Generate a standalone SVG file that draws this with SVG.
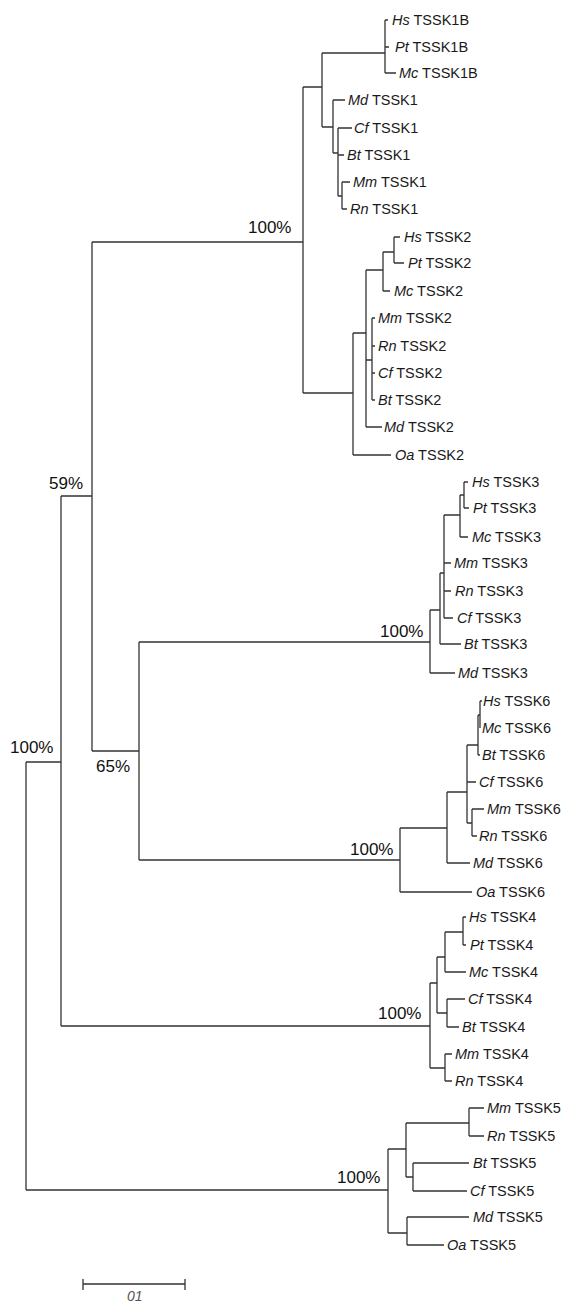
<svg xmlns="http://www.w3.org/2000/svg" width="564" height="1305" viewBox="0 0 564 1305">
<style>
.t{font-family:"Liberation Sans",Arial,sans-serif;font-size:14.5px;fill:#1a1a1a}
.sp{font-style:italic}
.bs{font-family:"Liberation Sans",Arial,sans-serif;font-size:17px;fill:#111}
.br{fill:none;stroke:#333;stroke-width:1.3}
.sc{font-family:"Liberation Sans",Arial,sans-serif;font-size:14px;font-style:italic;fill:#555}
</style>
<rect width="564" height="1305" fill="#fff"/>
<g id="connectors" class="br">
<path d="M26,762V1190M26,762H61M26,1190H388"/>
<path d="M61,496V1026M61,496H92M61,1026H430"/>
<path d="M92,242V751M92,242H303M92,751H139"/>
<path d="M139,642V860M139,642H430M139,860H400"/>
<path d="M303,87V393M303,87H322M303,393H353"/>
<path d="M322,53V127M322,53H385M322,127H333"/>
<path d="M385,20V73M385,20H388M385,47H389M385,73H396"/>
<path d="M333,100V153M333,100H345M333,153H338"/>
<path d="M338,128V196M338,128H352M338,155H344M338,196H342"/>
<path d="M342,182V209M342,182H350M342,209H347"/>
<path d="M353,333V455M353,333H366M353,455H391"/>
<path d="M366,270V427M366,270H383M366,427H382M366,360H372"/>
<path d="M383,252V291M383,252H394M383,291H390"/>
<path d="M394,237V263M394,237H400M394,263H404"/>
<path d="M372,318V400M372,318H375M372,346H375M372,373H375M372,400H375"/>
<path d="M430,610V673M430,610H440M430,673H455"/>
<path d="M440,573V644M440,573H444M440,644H461"/>
<path d="M444,515V618M444,515H460M444,563H451M444,591H451M444,618H453"/>
<path d="M460,495V537M460,495H464M460,537H468"/>
<path d="M464,482V508M464,482H468M464,508H469"/>
<path d="M400,828V892M400,828H447M400,892H472"/>
<path d="M447,792V863M447,792H467M447,863H470"/>
<path d="M467,745V823M467,745H478M467,782H476M467,823H472"/>
<path d="M478,715V755M478,715H480M478,755H480"/>
<path d="M480,701V728M480,701H482M480,728H480"/>
<path d="M472,809V836M472,809H484M472,836H477"/>
<path d="M430,983V1068M430,983H437M430,1068H445"/>
<path d="M437,957V1013M437,957H445M437,1013H447"/>
<path d="M445,932V972M445,932H463M445,972H466"/>
<path d="M463,917V945M463,917H466M463,945H466"/>
<path d="M447,999V1027M447,999H465M447,1027H459"/>
<path d="M445,1054V1081M445,1054H452M445,1081H452"/>
<path d="M388,1149V1233M388,1149H406M388,1233H407"/>
<path d="M406,1123V1177M406,1123H469M406,1177H413"/>
<path d="M469,1108V1136M469,1108H484M469,1136H484"/>
<path d="M413,1163V1191M413,1163H469M413,1191H467"/>
<path d="M407,1217V1245M407,1217H469M407,1245H444"/>
</g>
<g id="bootstrap">
<text id="bs-tssk1-2" class="bs" x="248" y="233">100%</text>
<text id="bs-59" class="bs" x="49" y="489">59%</text>
<text id="bs-root" class="bs" x="10" y="753">100%</text>
<text id="bs-65" class="bs" x="96" y="772">65%</text>
<text id="bs-tssk3" class="bs" x="380" y="637">100%</text>
<text id="bs-tssk6" class="bs" x="350" y="855">100%</text>
<text id="bs-tssk4" class="bs" x="378" y="1019">100%</text>
<text id="bs-tssk5" class="bs" x="337" y="1183">100%</text>
</g>
<g id="leaves" class="t">
<g id="hs-tssk1b"><text x="392" y="25"><tspan class="sp">Hs</tspan> TSSK1B</text></g>
<g id="pt-tssk1b"><text x="395" y="52"><tspan class="sp">Pt</tspan> TSSK1B</text></g>
<g id="mc-tssk1b"><text x="399" y="78"><tspan class="sp">Mc</tspan> TSSK1B</text></g>
<g id="md-tssk1"><text x="348" y="105"><tspan class="sp">Md</tspan> TSSK1</text></g>
<g id="cf-tssk1"><text x="354" y="133"><tspan class="sp">Cf</tspan> TSSK1</text></g>
<g id="bt-tssk1"><text x="347" y="160"><tspan class="sp">Bt</tspan> TSSK1</text></g>
<g id="mm-tssk1"><text x="353" y="187"><tspan class="sp">Mm</tspan> TSSK1</text></g>
<g id="rn-tssk1"><text x="350" y="214"><tspan class="sp">Rn</tspan> TSSK1</text></g>
<g id="hs-tssk2"><text x="404" y="242"><tspan class="sp">Hs</tspan> TSSK2</text></g>
<g id="pt-tssk2"><text x="408" y="268"><tspan class="sp">Pt</tspan> TSSK2</text></g>
<g id="mc-tssk2"><text x="394" y="296"><tspan class="sp">Mc</tspan> TSSK2</text></g>
<g id="mm-tssk2"><text x="378" y="323"><tspan class="sp">Mm</tspan> TSSK2</text></g>
<g id="rn-tssk2"><text x="378" y="351"><tspan class="sp">Rn</tspan> TSSK2</text></g>
<g id="cf-tssk2"><text x="378" y="378"><tspan class="sp">Cf</tspan> TSSK2</text></g>
<g id="bt-tssk2"><text x="378" y="405"><tspan class="sp">Bt</tspan> TSSK2</text></g>
<g id="md-tssk2"><text x="384" y="432"><tspan class="sp">Md</tspan> TSSK2</text></g>
<g id="oa-tssk2"><text x="395" y="460"><tspan class="sp">Oa</tspan> TSSK2</text></g>
<g id="hs-tssk3"><text x="472" y="487"><tspan class="sp">Hs</tspan> TSSK3</text></g>
<g id="pt-tssk3"><text x="473" y="513"><tspan class="sp">Pt</tspan> TSSK3</text></g>
<g id="mc-tssk3"><text x="472" y="542"><tspan class="sp">Mc</tspan> TSSK3</text></g>
<g id="mm-tssk3"><text x="454" y="568"><tspan class="sp">Mm</tspan> TSSK3</text></g>
<g id="rn-tssk3"><text x="455" y="596"><tspan class="sp">Rn</tspan> TSSK3</text></g>
<g id="cf-tssk3"><text x="457" y="623"><tspan class="sp">Cf</tspan> TSSK3</text></g>
<g id="bt-tssk3"><text x="464" y="649"><tspan class="sp">Bt</tspan> TSSK3</text></g>
<g id="md-tssk3"><text x="458" y="678"><tspan class="sp">Md</tspan> TSSK3</text></g>
<g id="hs-tssk6"><text x="483" y="706"><tspan class="sp">Hs</tspan> TSSK6</text></g>
<g id="mc-tssk6"><text x="482" y="733"><tspan class="sp">Mc</tspan> TSSK6</text></g>
<g id="bt-tssk6"><text x="482" y="760"><tspan class="sp">Bt</tspan> TSSK6</text></g>
<g id="cf-tssk6"><text x="479" y="787"><tspan class="sp">Cf</tspan> TSSK6</text></g>
<g id="mm-tssk6"><text x="487" y="814"><tspan class="sp">Mm</tspan> TSSK6</text></g>
<g id="rn-tssk6"><text x="479" y="841"><tspan class="sp">Rn</tspan> TSSK6</text></g>
<g id="md-tssk6"><text x="473" y="868"><tspan class="sp">Md</tspan> TSSK6</text></g>
<g id="oa-tssk6"><text x="476" y="897"><tspan class="sp">Oa</tspan> TSSK6</text></g>
<g id="hs-tssk4"><text x="469" y="922"><tspan class="sp">Hs</tspan> TSSK4</text></g>
<g id="pt-tssk4"><text x="470" y="950"><tspan class="sp">Pt</tspan> TSSK4</text></g>
<g id="mc-tssk4"><text x="469" y="977"><tspan class="sp">Mc</tspan> TSSK4</text></g>
<g id="cf-tssk4"><text x="468" y="1004"><tspan class="sp">Cf</tspan> TSSK4</text></g>
<g id="bt-tssk4"><text x="462" y="1032"><tspan class="sp">Bt</tspan> TSSK4</text></g>
<g id="mm-tssk4"><text x="455" y="1059"><tspan class="sp">Mm</tspan> TSSK4</text></g>
<g id="rn-tssk4"><text x="455" y="1086"><tspan class="sp">Rn</tspan> TSSK4</text></g>
<g id="mm-tssk5"><text x="487" y="1113"><tspan class="sp">Mm</tspan> TSSK5</text></g>
<g id="rn-tssk5"><text x="487" y="1141"><tspan class="sp">Rn</tspan> TSSK5</text></g>
<g id="bt-tssk5"><text x="473" y="1168"><tspan class="sp">Bt</tspan> TSSK5</text></g>
<g id="cf-tssk5"><text x="470" y="1196"><tspan class="sp">Cf</tspan> TSSK5</text></g>
<g id="md-tssk5"><text x="473" y="1222"><tspan class="sp">Md</tspan> TSSK5</text></g>
<g id="oa-tssk5"><text x="447" y="1250"><tspan class="sp">Oa</tspan> TSSK5</text></g>
</g>
<g id="scale-bar">
<path class="br" d="M83,1284H185M83,1279V1290M185,1279V1290"/>
<text class="sc" x="127" y="1301">01</text>
</g>
</svg>
